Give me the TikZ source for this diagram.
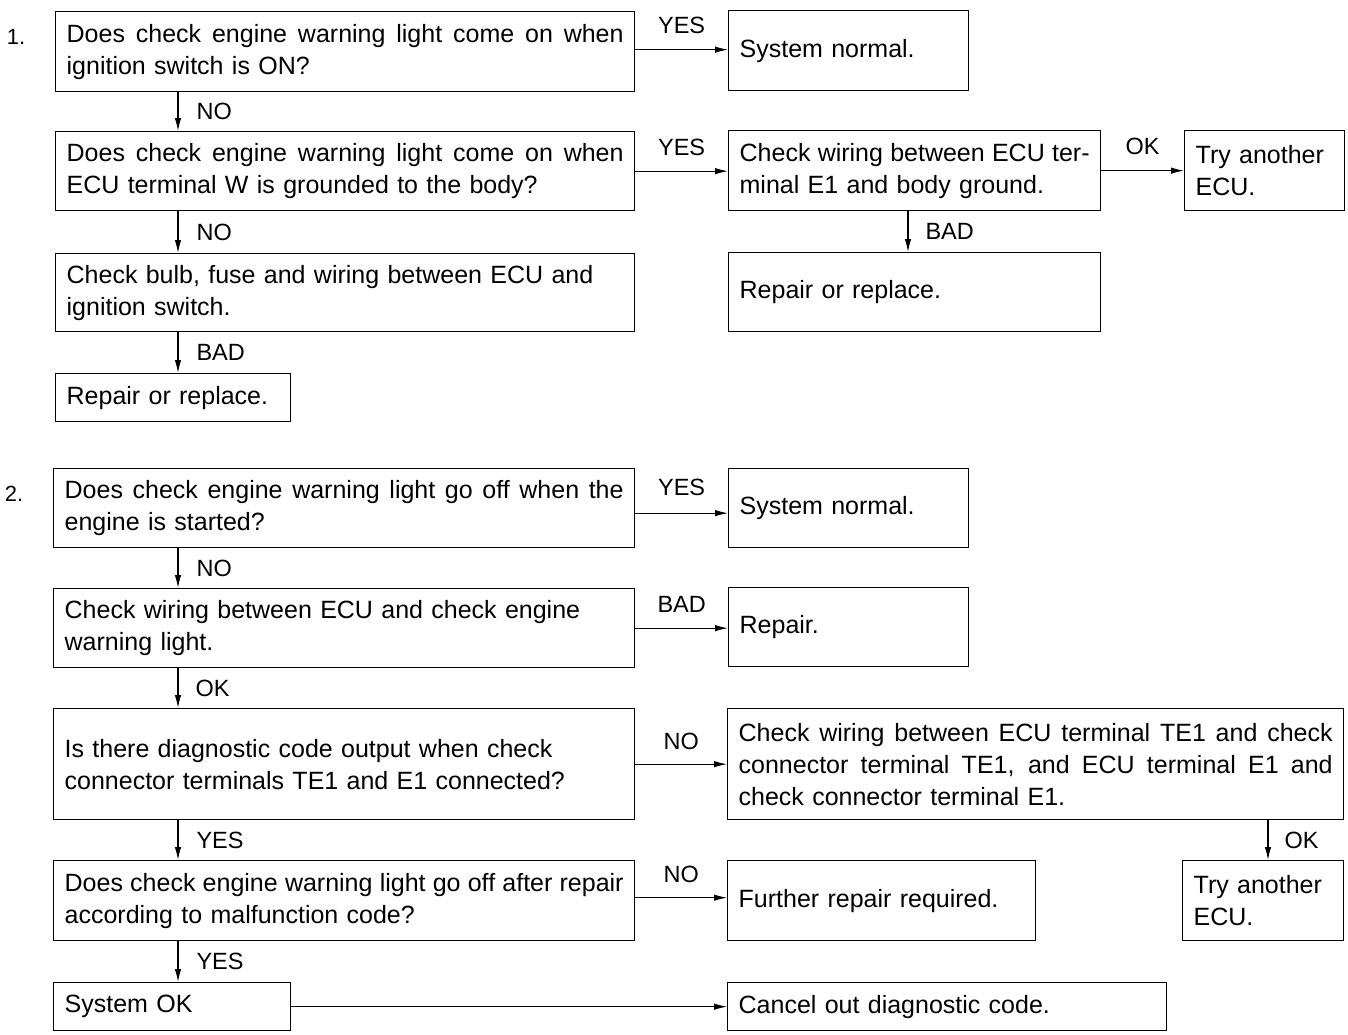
\documentclass[tikz,border=0pt]{standalone}
\usepackage{fontspec}
\setmainfont{Liberation Sans}
\usetikzlibrary{arrows.meta}
\newcommand\jl[2]{\leavevmode\hbox to #1{\spaceskip=\fontdimen2\font plus 1fil minus 0.3\fontdimen2\font\relax #2}}
\begin{document}
\begin{tikzpicture}[x=1pt,y=-1pt,
  box/.style={draw, line width=1.3pt, anchor=north west, inner xsep=11pt, inner ysep=0pt,
    align=left, font=\fontsize{25}{32}\selectfont},
  sz/.style 2 args={minimum width=#1, minimum height=#2, text width=#1-22pt},
  conn/.style={line width=1.1pt, -{Latex[length=13pt,width=6.5pt]}},
  lbl/.style={inner sep=0pt, font=\fontsize{23.5}{28}\selectfont},
  num/.style={inner sep=0pt, anchor=base, font=\fontsize{22}{26}\selectfont}]
\useasboundingbox (0,0) rectangle (1348,1034);
\coordinate (L) at (178,0);
\coordinate (R1) at (908,0);
\coordinate (R2) at (1268,0);

% ---------- Section 1 ----------
\node[num] (n1) at (16,44) {1.};
\node[box, sz={579pt}{80pt}] (B1) at (55,11)
  {\jl{557pt}{Does check engine warning light come on when}\\ignition switch is ON?};
\node[box, sz={240pt}{80pt}] (S1) at (728,10) {System normal.};
\node[box, sz={579pt}{79pt}] (B2) at (55,131)
  {\jl{557pt}{Does check engine warning light come on when}\\ECU terminal W is grounded to the body?};
\node[box, sz={372pt}{80pt}] (B3) at (728,130)
  {\jl{350pt}{Check wiring between ECU ter-}\\minal E1 and body ground.};
\node[box, sz={160pt}{80pt}] (B4) at (1184,130) {Try another\\ECU.};
\node[box, sz={372pt}{79pt}] (B5) at (728,252) {Repair or replace.};
\node[box, sz={579pt}{78pt}] (B6) at (55,253)
  {Check bulb, fuse and wiring between ECU and\\ignition switch.};
\node[box, sz={235pt}{48pt}] (B7) at (55,373) {Repair or replace.};

\draw[conn] ([yshift=2pt]B1.east) -- ([yshift=2pt]B1.east -| S1.west) node[lbl, midway, anchor=base, yshift=16pt] {YES};
\draw[conn] (L |- B1.south) -- (L |- B2.north) node[lbl, midway, anchor=west, xshift=18pt] {NO};
\draw[conn] (B2.east) -- (B2.east -| B3.west) node[lbl, midway, anchor=base, yshift=16pt] {YES};
\draw[conn] (B3.east) -- (B3.east -| B4.west) node[lbl, midway, anchor=base, yshift=16pt] {OK};
\draw[conn] (R1 |- B3.south) -- (R1 |- B5.north) node[lbl, midway, anchor=west, xshift=17pt] {BAD};
\draw[conn] (L |- B2.south) -- (L |- B6.north) node[lbl, midway, anchor=west, xshift=18pt] {NO};
\draw[conn] (L |- B6.south) -- (L |- B7.north) node[lbl, midway, anchor=west, xshift=18pt] {BAD};

% ---------- Section 2 ----------
\node[num] (n2) at (14,501) {2.};
\node[box, sz={581pt}{79pt}] (C1) at (53,468)
  {\jl{559pt}{Does check engine warning light go off when the}\\engine is started?};
\node[box, sz={240pt}{79pt}] (C2) at (728,468) {System normal.};
\node[box, sz={581pt}{79pt}] (C3) at (53,588)
  {Check wiring between ECU and check engine\\warning light.};
\node[box, sz={240pt}{79pt}] (C4) at (728,587) {Repair.};
\node[box, sz={581pt}{111pt}] (C5) at (53,708)
  {Is there diagnostic code output when check\\connector terminals TE1 and E1 connected?};
\node[box, sz={616pt}{111pt}] (C6) at (727,708)
  {\jl{594pt}{Check wiring between ECU terminal TE1 and check}\\
   \jl{594pt}{connector terminal TE1, and ECU terminal E1 and}\\
   check connector terminal E1.};
\node[box, sz={161pt}{80pt}] (C7) at (1182,860) {Try another\\ECU.};
\node[box, sz={581pt}{80pt}] (C8) at (53,860)
  {\jl{559pt}{Does check engine warning light go off after repair}\\according to malfunction code?};
\node[box, sz={308pt}{80pt}] (C9) at (727,860) {Further repair required.};
\node[box, sz={237pt}{48pt}] (C10) at (53,982) {System OK};
\node[box, sz={439pt}{48pt}] (C11) at (727,982) {Cancel out diagnostic code.};

\draw[conn] ([yshift=-5pt]C1.east) -- ([yshift=-5pt]C1.east -| C2.west) node[lbl, midway, anchor=base, yshift=18pt] {YES};
\draw[conn] (L |- C1.south) -- (L |- C3.north) node[lbl, midway, anchor=west, xshift=18pt] {NO};
\draw[conn] (C3.east) -- (C3.east -| C4.west) node[lbl, midway, anchor=base, yshift=16pt] {BAD};
\draw[conn] (L |- C3.south) -- (L |- C5.north) node[lbl, midway, anchor=west, xshift=17pt] {OK};
\draw[conn] (C5.east) -- (C5.east -| C6.west) node[lbl, midway, anchor=base, yshift=15pt] {NO};
\draw[conn] (R2 |- C6.south) -- (R2 |- C7.north) node[lbl, midway, anchor=west, xshift=16pt] {OK};
\draw[conn] (L |- C5.south) -- (L |- C8.north) node[lbl, midway, anchor=west, xshift=18pt] {YES};
\draw[conn] ([yshift=3pt]C8.east) -- ([yshift=3pt]C8.east -| C9.west) node[lbl, midway, anchor=base, yshift=15pt] {NO};
\draw[conn] (L |- C8.south) -- (L |- C10.north) node[lbl, midway, anchor=west, xshift=18pt] {YES};
\draw[conn] (C10.east) -- (C10.east -| C11.west);
\end{tikzpicture}
\end{document}
